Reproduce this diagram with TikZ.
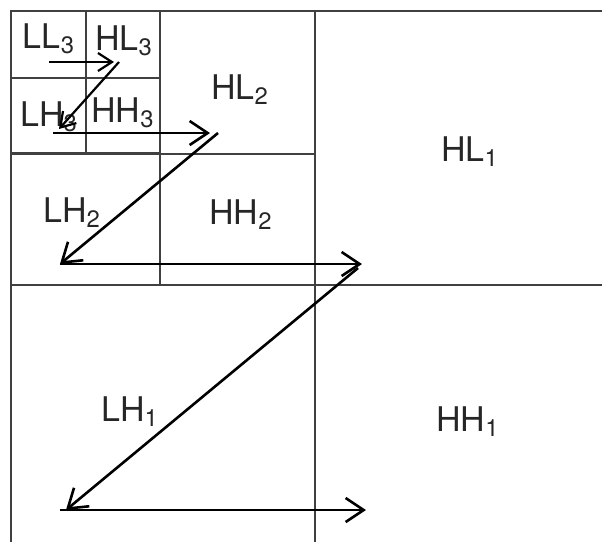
\documentclass[tikz,border=0pt]{standalone}
\usepackage{fontspec}
\setmainfont{TeX Gyre Heros}
\usetikzlibrary{arrows.meta}

\begin{document}
\begin{tikzpicture}[x=0.5pt, y=-0.5pt,
    grid/.style={line width=0.9pt, black!75},
    zig/.style={line width=1.3pt, -{Straight Barb[length=9pt, width=12pt]}},
    zigsmall/.style={line width=1.1pt, -{Straight Barb[length=7pt, width=9pt]}},
    band/.style={font=\fontsize{17}{20}\selectfont, inner sep=0pt, text=black!85}]
    \useasboundingbox (0,0) rectangle (602,542);

    % level 1
    \draw[grid] (602,11) -- (11,11) -- (11,542);
    \draw[grid] (315,11) -- (315,542);
    \draw[grid] (11,285) -- (602,285);
    % level 2
    \draw[grid] (160,11) -- (160,285);
    \draw[grid] (11,154) -- (315,154);
    \draw[grid, line width=1.5pt] (11,153) -- (160,153);
    % level 3
    \draw[grid] (86,11) -- (86,154);
    \draw[grid] (11,78) -- (160,78);

    % sub-band labels
    \node[band] (ll3) at (49,39)  {LL\textsubscript{3}};
    \node[band] (hl3) at (124,41) {HL\textsubscript{3}};
    \node[band] (lh3) at (49,117) {LH\textsubscript{3}};
    \node[band] (hh3) at (123,113) {HH\textsubscript{3}};
    \node[band] (hl2) at (240,90) {HL\textsubscript{2}};
    \node[band] (lh2) at (72,213) {LH\textsubscript{2}};
    \node[band] (hh2) at (241,215) {HH\textsubscript{2}};
    \node[band] (hl1) at (470,152) {HL\textsubscript{1}};
    \node[band] (lh1) at (130,412) {LH\textsubscript{1}};
    \node[band] (hh1) at (468,422) {HH\textsubscript{1}};

    % scan path
    \coordinate (s1) at (49,62);
    \coordinate (e1) at (114,62);
    \coordinate (s2) at (119,62);
    \coordinate (e2) at (59,129);
    \coordinate (s3) at (53,133);
    \coordinate (e3) at (210,133);
    \coordinate (s4) at (218,133);
    \coordinate (e4) at (60,264);
    \coordinate (s5) at (60,264);
    \coordinate (e5) at (362,264);
    \coordinate (s6) at (358,268);
    \coordinate (e6) at (66,510);
    \coordinate (s7) at (60,510);
    \coordinate (e7) at (366,510);

    \draw[zigsmall] (s1) -- (e1);
    \draw[zigsmall] (s2) -- (e2);
    \draw[zig] (s3) -- (e3);
    \draw[zig] (s4) -- (e4);
    \draw[zig] (s5) -- (e5);
    \draw[zig] (s6) -- (e6);
    \draw[zig] (s7) -- (e7);
\end{tikzpicture}
\end{document}
